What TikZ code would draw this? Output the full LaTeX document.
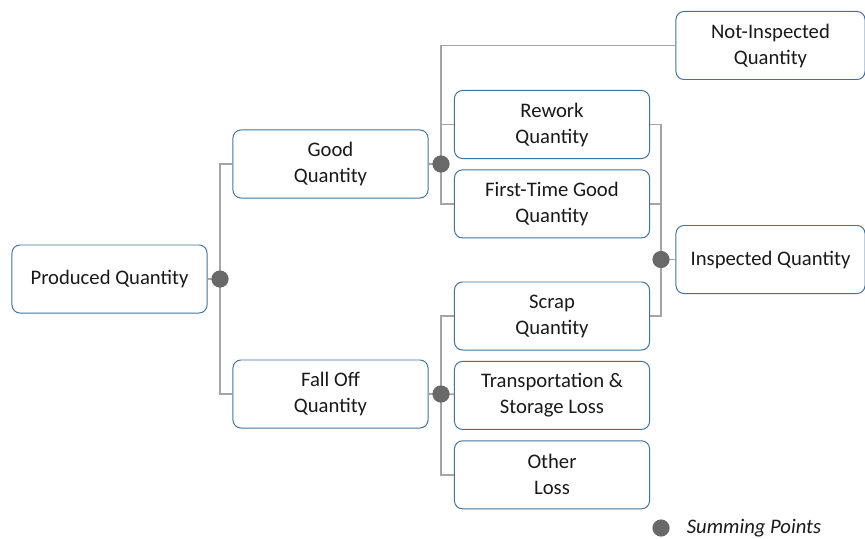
\documentclass[tikz,border=0pt]{standalone}
\usepackage{fontspec}
\setmainfont{Carlito}
\usetikzlibrary{positioning, calc}
\definecolor{boxblue}{RGB}{65,113,156}
\definecolor{linegray}{RGB}{165,165,165}
\definecolor{dotgray}{RGB}{105,105,105}
\tikzset{
    qtree/.style={x=0.025cm, y=-0.025cm, node distance=0.26cm and 0.35cm},
    qbox/.style={draw=boxblue, line width=0.7pt, rounded corners=0.2cm, minimum width=4.875cm,
        minimum height=1.7cm, align=center, text=black!90, font=\fontsize{14.7}{18.5}\selectfont},
    widebox/.style={qbox, minimum width=4.725cm},
    sumdot/.style={circle, fill=dotgray, minimum size=0.43cm, inner sep=0pt},
    link/.style={draw=linegray, line width=1pt},
}

\begin{document}
\begin{tikzpicture}[qtree]
    \useasboundingbox (0,0) rectangle (865,538);

    \node[qbox] (produced) at (109.5,279) {Produced Quantity};
    \node[qbox] (good)     at (330.5,164) {Good\\Quantity};
    \node[qbox] (falloff)  at (330.5,394) {Fall Off\\Quantity};

    \node[qbox] (rework) at (552,124.5)    {Rework\\Quantity};
    \node[qbox, below=of rework] (ftgood)  {First-Time Good\\Quantity};
    \node[qbox] (scrap)  at (552,316)      {Scrap\\Quantity};
    \node[qbox, below=of scrap] (transport) {Transportation \&\\Storage Loss};
    \node[qbox, below=of transport] (other) {Other\\Loss};

    \node[widebox] (notinsp) at (770.5,45.5)  {Not-Inspected\\Quantity};
    \node[widebox] (insp)    at (770.5,259.5) {Inspected Quantity};

    % summing points
    \coordinate (s1) at (220,279);
    \coordinate (s2) at (441,164);
    \coordinate (s3) at (661,259.5);
    \coordinate (s4) at (441,394);

    \draw[link] (produced) -- (s1);
    \draw[link] (good.west) -| (s1) |- (falloff.west);

    \draw[link] (good) -- (s2);
    \draw[link] (notinsp.west) -| (s2);
    \draw[link] (rework.west) -| (s2);
    \draw[link] (ftgood.west) -| (s2);

    \draw[link] (rework.east) -| (s3);
    \draw[link] (ftgood.east) -| (s3);
    \draw[link] (scrap.east) -| (s3);
    \draw[link] (s3) -- (insp);

    \draw[link] (falloff) -- (s4);
    \draw[link] (scrap.west) -| (s4);
    \draw[link] (transport) -- (s4);
    \draw[link] (other.west) -| (s4);

    \foreach \s in {s1, s2, s3, s4}
        \node[sumdot] at (\s) {};

    % legend
    \node[sumdot] (legdot) at (661,528) {};
    \node[right=0.3cm of legdot, font=\fontsize{14.7}{17}\selectfont\itshape, text=black!90] (legtext) {Summing Points};
\end{tikzpicture}
\end{document}
